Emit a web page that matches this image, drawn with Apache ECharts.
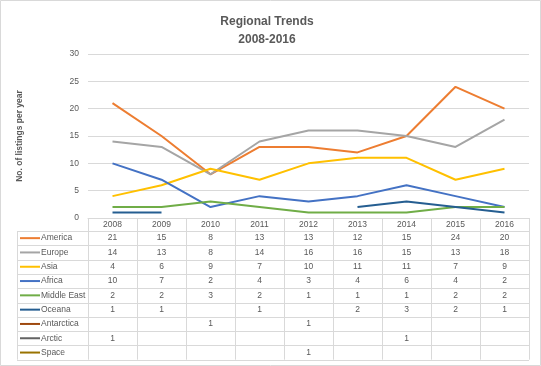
<!DOCTYPE html>
<html>
<head>
<meta charset="utf-8">
<script src="https://cdn.jsdelivr.net/npm/echarts@6/dist/echarts.min.js"></script>
<style>
html,body{margin:0;padding:0;background:#fff;}
#c{width:541px;height:366px;}
</style>
</head>
<body>
<div id="c"></div>
<script>
var years = ['2008','2009','2010','2011','2012','2013','2014','2015','2016'];
var seriesNames = ['America','Europe','Asia','Africa','Middle East','Oceana','Antarctica','Arctic','Space'];
var america    = [21,15,8,13,13,12,15,24,20];
var europe     = [14,13,8,14,16,16,15,13,18];
var asia       = [4,6,9,7,10,11,11,7,9];
var africa     = [10,7,2,4,3,4,6,4,2];
var middleEast = [2,2,3,2,1,1,1,2,2];
var oceana     = [1,1,null,1,null,2,3,2,1];
var antarctica = [null,null,1,null,1,null,null,null,null];
var arctic     = [1,null,null,null,null,null,1,null,null];
var space      = [null,null,null,null,1,null,null,null,null];
var yTicks = [0,5,10,15,20,25,30];

var seriesData = [america,europe,asia,africa,middleEast,oceana,antarctica,arctic,space];
var colors = ['#ED7D31','#A5A5A5','#FFC000','#4472C4','#70AD47','#255E91','#9E480E','#636363','#997300'];
var textColor = '#595959';
var lineGray = '#D9D9D9';
var FONT = '"Liberation Sans", Arial, sans-serif';

var chart = echarts.init(document.getElementById('c'), null, {renderer:'canvas'});

var option = {
  animation: false,
  backgroundColor: '#fff',
  title: {
    text: 'Regional Trends\n2008-2016',
    left: 262, top: 8, textAlign: 'center',
    textStyle: {fontFamily: FONT, fontSize: 12, fontWeight: 'bold', color: textColor, lineHeight: 18}
  },
  grid: {left: 88, right: 12, top: 54, bottom: 148, containLabel: false},
  xAxis: {
    type: 'category', data: years, boundaryGap: true,
    axisLine: {show: true, lineStyle: {color: lineGray, width: 1}},
    axisTick: {show: false},
    axisLabel: {show: false}
  },
  yAxis: {
    type: 'value', min: yTicks[0], max: yTicks[yTicks.length-1], interval: 5,
    name: 'No. of listings per year', nameLocation: 'middle', nameGap: 64, nameRotate: 90,
    nameTextStyle: {fontFamily: FONT, fontSize: 8.5, fontWeight: 'bold', color: textColor},
    axisLine: {show: false}, axisTick: {show: false},
    axisLabel: {fontFamily: FONT, fontSize: 8.5, color: textColor, margin: 9},
    splitLine: {lineStyle: {color: lineGray, width: 1}}
  },
  series: seriesNames.map(function(n, i){
    return {
      name: n, type: 'line', data: seriesData[i], showSymbol: false, symbol: 'none',
      connectNulls: false,
      lineStyle: {color: colors[i], width: 2},
      itemStyle: {color: colors[i]}
    };
  })
};
chart.setOption(option);

// Data table below the plot, positioned from the axis scales
var centers = years.map(function(y){ return chart.convertToPixel({xAxisIndex:0}, y); });
var colW = centers[1] - centers[0];
var plotLeft = centers[0] - colW/2;
var plotRight = centers[centers.length-1] + colW/2;
var tableTop = Math.round(chart.convertToPixel({yAxisIndex:0}, 0));
var headerH = 13;
var rowH = 14.3;
var labelLeft = 17;
var els = [];
// outer border
els.push({type:'rect', shape:{x:0.5,y:0.5,width:540,height:365}, style:{fill:'none', stroke:lineGray, lineWidth:1}, silent:true});
var rowsTop = tableTop + headerH;
var tableBottom = rowsTop + rowH*seriesNames.length;
function hline(x1,x2,y){ els.push({type:'line', shape:{x1:x1,y1:Math.round(y)+0.5,x2:x2,y2:Math.round(y)+0.5}, style:{stroke:lineGray, lineWidth:1}, silent:true}); }
function vline(x,y1,y2){ els.push({type:'line', shape:{x1:Math.round(x)+0.5,y1:y1,x2:Math.round(x)+0.5,y2:y2}, style:{stroke:lineGray, lineWidth:1}, silent:true}); }
for (var r = 0; r <= seriesNames.length; r++) {
  hline(labelLeft, plotRight, rowsTop + r*rowH);
}
vline(labelLeft, rowsTop, tableBottom);
for (var c = 0; c <= years.length; c++) {
  vline(plotLeft + c*colW, tableTop, tableBottom);
}
years.forEach(function(y, i){
  els.push({type:'text', x: centers[i], y: tableTop + headerH/2 + 0.5,
    style:{text: y, fill: textColor, font: '8.5px ' + FONT, textAlign:'center', textVerticalAlign:'middle'}, silent:true});
});
seriesNames.forEach(function(n, r){
  var cy = rowsTop + r*rowH + rowH/2;
  els.push({type:'line', shape:{x1:20, y1:cy, x2:40, y2:cy}, style:{stroke: colors[r], lineWidth:2}, silent:true});
  els.push({type:'text', x: 41, y: cy,
    style:{text: n, fill: textColor, font: '8.5px ' + FONT, textAlign:'left', textVerticalAlign:'middle'}, silent:true});
  seriesData[r].forEach(function(v, i){
    if (v === null) return;
    els.push({type:'text', x: centers[i], y: cy,
      style:{text: String(v), fill: textColor, font: '8.5px ' + FONT, textAlign:'center', textVerticalAlign:'middle'}, silent:true});
  });
});
chart.setOption({graphic: {elements: els}});
</script>
</body>
</html>
